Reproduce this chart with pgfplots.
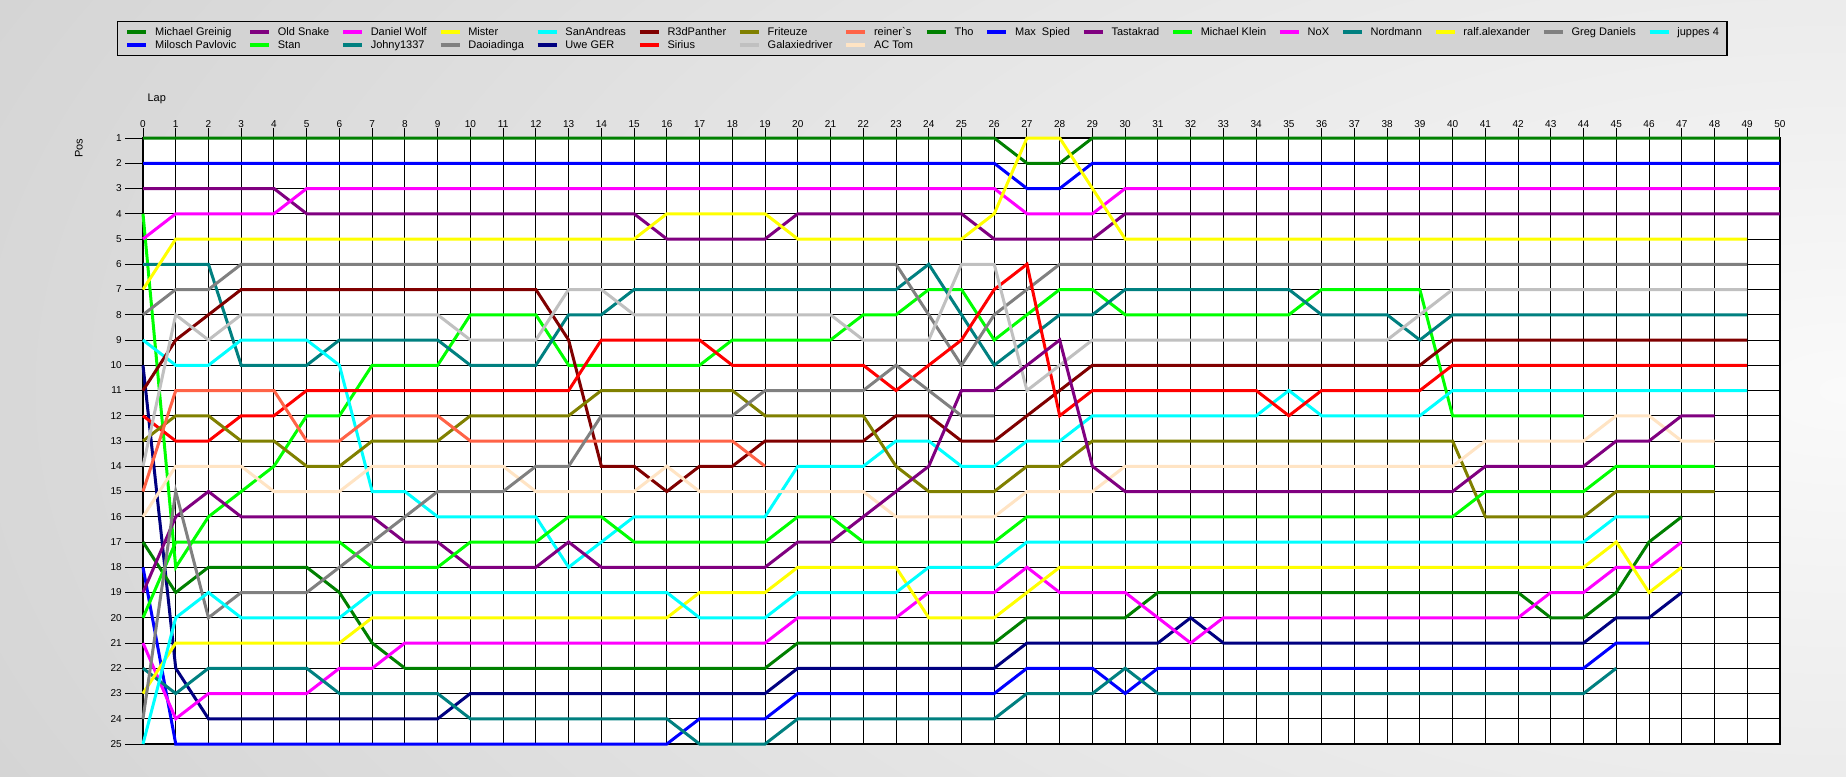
\documentclass[border=0pt]{standalone}
\usepackage{pgfplots}
\usepackage{pgfplotstable}
\pgfplotsset{compat=1.18}
\usepackage{fontspec}
\setmainfont{Liberation Sans}

\definecolor{cGreen}{RGB}{0,128,0}
\definecolor{cBlue}{RGB}{0,0,255}
\definecolor{cPurple}{RGB}{128,0,128}
\definecolor{cLime}{RGB}{0,255,0}
\definecolor{cMagenta}{RGB}{255,0,255}
\definecolor{cTeal}{RGB}{0,128,128}
\definecolor{cYellow}{RGB}{255,255,0}
\definecolor{cGray}{RGB}{128,128,128}
\definecolor{cCyan}{RGB}{0,255,255}
\definecolor{cNavy}{RGB}{0,0,128}
\definecolor{cMaroon}{RGB}{128,0,0}
\definecolor{cRed}{RGB}{255,0,0}
\definecolor{cOlive}{RGB}{128,128,0}
\definecolor{cSilver}{RGB}{192,192,192}
\definecolor{cTomato}{RGB}{255,99,71}
\definecolor{cBisque}{RGB}{255,228,196}
\definecolor{legendgray}{RGB}{211,211,211}
\definecolor{bgOuter}{RGB}{213,213,213}
\definecolor{bgInner}{RGB}{250,250,250}

% position of each driver after every lap (nan = retired)
\pgfplotstableread{
lap MG MP OS ST DW JO MI DA SA UW R3 SI FR GA RE AC TH MS TA MK NO NM RA GD JU
0  1 2 3 4  5 6  7 8  9  10 11 12 13 14 15  16 17 18 19 20 21 22 23 24 25
1  1 2 3 18 4 6  5 7  10 22 9  13 12 8  11  14 19 25 16 17 24 23 21 15 20
2  1 2 3 16 4 6  5 7  10 24 8  13 12 9  11  14 18 25 15 17 23 22 21 20 19
3  1 2 3 15 4 10 5 6  9  24 7  12 13 8  11  14 18 25 16 17 23 22 21 19 20
4  1 2 3 14 4 10 5 6  9  24 7  12 13 8  11  15 18 25 16 17 23 22 21 19 20
5  1 2 4 12 3 10 5 6  9  24 7  11 14 8  13  15 18 25 16 17 23 22 21 19 20
6  1 2 4 12 3 9  5 6  10 24 7  11 14 8  13  15 19 25 16 17 22 23 21 18 20
7  1 2 4 10 3 9  5 6  15 24 7  11 13 8  12  14 21 25 16 18 22 23 20 17 19
8  1 2 4 10 3 9  5 6  15 24 7  11 13 8  12  14 22 25 17 18 21 23 20 16 19
9  1 2 4 10 3 9  5 6  16 24 7  11 13 8  12  14 22 25 17 18 21 23 20 15 19
10 1 2 4 8  3 10 5 6  16 23 7  11 12 9  13  14 22 25 18 17 21 24 20 15 19
11 1 2 4 8  3 10 5 6  16 23 7  11 12 9  13  14 22 25 18 17 21 24 20 15 19
12 1 2 4 8  3 10 5 6  16 23 7  11 12 9  13  15 22 25 18 17 21 24 20 14 19
13 1 2 4 10 3 8  5 6  18 23 9  11 12 7  13  15 22 25 17 16 21 24 20 14 19
14 1 2 4 10 3 8  5 6  17 23 14 9  11 7  13  15 22 25 18 16 21 24 20 12 19
15 1 2 4 10 3 7  5 6  16 23 14 9  11 8  13  15 22 25 18 17 21 24 20 12 19
16 1 2 5 10 3 7  4 6  16 23 15 9  11 8  13  14 22 25 18 17 21 24 20 12 19
17 1 2 5 10 3 7  4 6  16 23 14 9  11 8  13  15 22 24 18 17 21 25 19 12 20
18 1 2 5 9  3 7  4 6  16 23 14 10 11 8  13  15 22 24 18 17 21 25 19 12 20
19 1 2 5 9  3 7  4 6  16 23 13 10 12 8  14  15 22 24 18 17 21 25 19 11 20
20 1 2 4 9  3 7  5 6  14 22 13 10 12 8  nan 15 21 23 17 16 20 24 18 11 19
21 1 2 4 9  3 7  5 6  14 22 13 10 12 8  nan 15 21 23 17 16 20 24 18 11 19
22 1 2 4 8  3 7  5 6  14 22 13 10 12 9  nan 15 21 23 16 17 20 24 18 11 19
23 1 2 4 8  3 7  5 6  13 22 12 11 14 9  nan 16 21 23 15 17 20 24 18 10 19
24 1 2 4 7  3 6  5 8  13 22 12 10 15 9  nan 16 21 23 14 17 19 24 20 11 18
25 1 2 4 7  3 8  5 10 14 22 13 9  15 6  nan 16 21 23 11 17 19 24 20 12 18
26 1 2 5 9  3 10 4 8  14 22 13 7  15 6  nan 16 21 23 11 17 19 24 20 12 18
27 2 3 5 8  4 9  1 7  13 21 12 6  14 11 nan 15 20 22 10 16 18 23 19 nan 17
28 2 3 5 7  4 8  1 6  13 21 11 12 14 10 nan 15 20 22 9  16 19 23 18 nan 17
29 1 2 5 7  4 8  3 6  12 21 10 11 13 9  nan 15 20 22 14 16 19 23 18 nan 17
30 1 2 4 8  3 7  5 6  12 21 10 11 13 9  nan 14 20 23 15 16 19 22 18 nan 17
31 1 2 4 8  3 7  5 6  12 21 10 11 13 9  nan 14 19 22 15 16 20 23 18 nan 17
32 1 2 4 8  3 7  5 6  12 20 10 11 13 9  nan 14 19 22 15 16 21 23 18 nan 17
33 1 2 4 8  3 7  5 6  12 21 10 11 13 9  nan 14 19 22 15 16 20 23 18 nan 17
34 1 2 4 8  3 7  5 6  12 21 10 11 13 9  nan 14 19 22 15 16 20 23 18 nan 17
35 1 2 4 8  3 7  5 6  11 21 10 12 13 9  nan 14 19 22 15 16 20 23 18 nan 17
36 1 2 4 7  3 8  5 6  12 21 10 11 13 9  nan 14 19 22 15 16 20 23 18 nan 17
37 1 2 4 7  3 8  5 6  12 21 10 11 13 9  nan 14 19 22 15 16 20 23 18 nan 17
38 1 2 4 7  3 8  5 6  12 21 10 11 13 9  nan 14 19 22 15 16 20 23 18 nan 17
39 1 2 4 7  3 9  5 6  12 21 10 11 13 8  nan 14 19 22 15 16 20 23 18 nan 17
40 1 2 4 12 3 8  5 6  11 21 9  10 13 7  nan 14 19 22 15 16 20 23 18 nan 17
41 1 2 4 12 3 8  5 6  11 21 9  10 16 7  nan 13 19 22 14 15 20 23 18 nan 17
42 1 2 4 12 3 8  5 6  11 21 9  10 16 7  nan 13 19 22 14 15 20 23 18 nan 17
43 1 2 4 12 3 8  5 6  11 21 9  10 16 7  nan 13 20 22 14 15 19 23 18 nan 17
44 1 2 4 12 3 8  5 6  11 21 9  10 16 7  nan 13 20 22 14 15 19 23 18 nan 17
45 1 2 4 nan 3 8 5 6  11 20 9  10 15 7  nan 12 19 21 13 14 18 22 17 nan 16
46 1 2 4 nan 3 8 5 6  11 20 9  10 15 7  nan 12 17 21 13 14 18 nan 19 nan 16
47 1 2 4 nan 3 8 5 6  11 19 9  10 15 7  nan 13 16 nan 12 14 17 nan 18 nan nan
48 1 2 4 nan 3 8 5 6  11 nan 9 10 15 7  nan 13 nan nan 12 14 nan nan nan nan nan
49 1 2 4 nan 3 8 5 6  11 nan 9 10 nan 7 nan nan nan nan nan nan nan nan nan nan nan
50 1 2 4 nan 3 nan nan nan nan nan nan nan nan nan nan nan nan nan nan nan nan nan nan nan nan
}\laps

\begin{document}
\begin{tikzpicture}
\path[use as bounding box] (0pt,0pt) rectangle (1846pt,776pt);
\begin{scope}
  \clip (0pt,0pt) rectangle (1846pt,776pt);
  \fill[bgOuter] (0pt,0pt) rectangle (1846pt,776pt);
  \shade[inner color=bgInner, outer color=bgOuter] (-154pt,-614pt) rectangle (3846pt,1386pt);
\end{scope}

\begin{axis}[
    at={(143pt,32pt)}, anchor=south west,
    scale only axis, width=1637pt, height=606pt,
    xmin=0, xmax=50, ymin=1, ymax=25, y dir=reverse,
    xtick={0,...,50}, ytick={1,...,25},
    xtick pos=right, xticklabel pos=right,
    ytick pos=left,
    tick align=outside, major tick length=10pt,
    ytick style={/pgfplots/major tick length=18pt},
    grid=major,
    major grid style={black, line width=1pt},
    axis line style={black, line width=1.2pt},
    tick style={black, line width=1pt},
    axis background/.style={fill=white},
    clip=false,
    unbounded coords=jump,
    /pgf/number format/assume math mode=true,
    xticklabel style={font=\fontsize{10}{12}\selectfont, inner sep=0pt, anchor=south},
    yticklabel style={font=\fontsize{10}{12}\selectfont, inner sep=0pt, anchor=east, xshift=-11pt},
    xlabel={Lap},
    every axis x label/.style={at={(axis description cs:0,1)}, anchor=west,
        xshift=1pt, yshift=39pt, font=\fontsize{11}{13}\selectfont},
    ylabel={Pos},
    every axis y label/.style={at={(axis description cs:0,1)}, rotate=90, anchor=center,
        xshift=-10pt, yshift=64pt, font=\fontsize{11}{13}\selectfont},
    every axis plot/.append style={line width=3pt},
    legend columns=17,
    legend cell align=left,
    legend image code/.code={\draw[#1] (0pt,0pt) -- (19pt,0pt);},
    legend style={
        at={(axis description cs:0,1)}, anchor=north west, xshift=-26pt, yshift=117pt,
        fill=legendgray, draw=black, line width=1.2pt,
        font=\fontsize{11}{13}\selectfont,
        inner xsep=8pt, inner ysep=5pt, row sep=2pt,
        nodes={inner sep=0pt, text height=8.5pt, text depth=2.5pt},
        /tikz/every odd column/.append style={column sep=7pt},
        /tikz/every even column/.append style={column sep=12pt},
    },
]
\addplot[forget plot, cGreen]   table[x=lap, y=MG]{\laps};
\addplot[forget plot, cBlue]    table[x=lap, y=MP]{\laps};
\addplot[forget plot, cPurple]  table[x=lap, y=OS]{\laps};
\addplot[forget plot, cLime]    table[x=lap, y=ST]{\laps};
\addplot[forget plot, cMagenta] table[x=lap, y=DW]{\laps};
\addplot[forget plot, cTeal]    table[x=lap, y=JO]{\laps};
\addplot[forget plot, cYellow]  table[x=lap, y=MI]{\laps};
\addplot[forget plot, cGray]    table[x=lap, y=DA]{\laps};
\addplot[forget plot, cCyan]    table[x=lap, y=SA]{\laps};
\addplot[forget plot, cNavy]    table[x=lap, y=UW]{\laps};
\addplot[forget plot, cMaroon]  table[x=lap, y=R3]{\laps};
\addplot[forget plot, cRed]     table[x=lap, y=SI]{\laps};
\addplot[forget plot, cOlive]   table[x=lap, y=FR]{\laps};
\addplot[forget plot, cSilver]  table[x=lap, y=GA]{\laps};
\addplot[forget plot, cTomato]  table[x=lap, y=RE]{\laps};
\addplot[forget plot, cBisque]  table[x=lap, y=AC]{\laps};
\addplot[forget plot, cGreen]   table[x=lap, y=TH]{\laps};
\addplot[forget plot, cBlue]    table[x=lap, y=MS]{\laps};
\addplot[forget plot, cPurple]  table[x=lap, y=TA]{\laps};
\addplot[forget plot, cLime]    table[x=lap, y=MK]{\laps};
\addplot[forget plot, cMagenta] table[x=lap, y=NO]{\laps};
\addplot[forget plot, cTeal]    table[x=lap, y=NM]{\laps};
\addplot[forget plot, cYellow]  table[x=lap, y=RA]{\laps};
\addplot[forget plot, cGray]    table[x=lap, y=GD]{\laps};
\addplot[forget plot, cCyan]    table[x=lap, y=JU]{\laps};

% legend, row by row as in the original
\addlegendimage{cGreen, line width=3.5pt}\addlegendentry{Michael Greinig}
\addlegendimage{cPurple, line width=3.5pt}\addlegendentry{Old Snake}
\addlegendimage{cMagenta, line width=3.5pt}\addlegendentry{Daniel Wolf}
\addlegendimage{cYellow, line width=3.5pt}\addlegendentry{Mister}
\addlegendimage{cCyan, line width=3.5pt}\addlegendentry{SanAndreas}
\addlegendimage{cMaroon, line width=3.5pt}\addlegendentry{R3dPanther}
\addlegendimage{cOlive, line width=3.5pt}\addlegendentry{Friteuze}
\addlegendimage{cTomato, line width=3.5pt}\addlegendentry{reiner\textasciigrave s}
\addlegendimage{cGreen, line width=3.5pt}\addlegendentry{Tho}
\addlegendimage{cBlue, line width=3.5pt}\addlegendentry{Max\ \ Spied}
\addlegendimage{cPurple, line width=3.5pt}\addlegendentry{Tastakrad}
\addlegendimage{cLime, line width=3.5pt}\addlegendentry{Michael Klein}
\addlegendimage{cMagenta, line width=3.5pt}\addlegendentry{NoX}
\addlegendimage{cTeal, line width=3.5pt}\addlegendentry{Nordmann}
\addlegendimage{cYellow, line width=3.5pt}\addlegendentry{ralf.alexander}
\addlegendimage{cGray, line width=3.5pt}\addlegendentry{Greg Daniels}
\addlegendimage{cCyan, line width=3.5pt}\addlegendentry{juppes 4}
\addlegendimage{cBlue, line width=3.5pt}\addlegendentry{Milosch Pavlovic}
\addlegendimage{cLime, line width=3.5pt}\addlegendentry{Stan}
\addlegendimage{cTeal, line width=3.5pt}\addlegendentry{Johny1337}
\addlegendimage{cGray, line width=3.5pt}\addlegendentry{Daoiadinga}
\addlegendimage{cNavy, line width=3.5pt}\addlegendentry{Uwe GER}
\addlegendimage{cRed, line width=3.5pt}\addlegendentry{Sirius}
\addlegendimage{cSilver, line width=3.5pt}\addlegendentry{Galaxiedriver}
\addlegendimage{cBisque, line width=3.5pt}\addlegendentry{AC Tom}
\end{axis}
\end{tikzpicture}
\end{document}
